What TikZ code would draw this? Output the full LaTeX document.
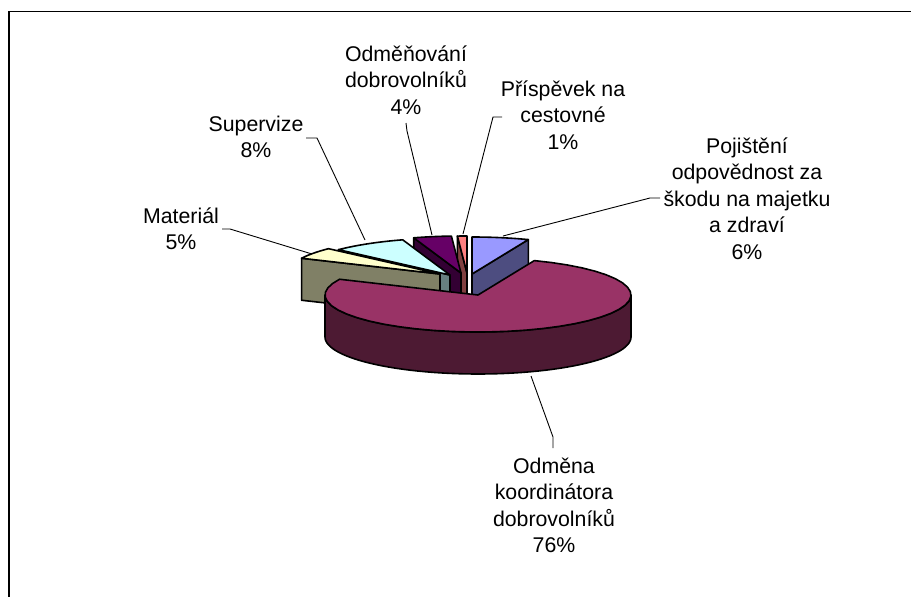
\documentclass[tikz,border=0pt]{standalone}
\usepackage{fontspec}
\setmainfont{Liberation Sans}
\definecolor{pojTop}{HTML}{9999FF}
\definecolor{pojSide}{HTML}{4D4D80}
\definecolor{mainTop}{HTML}{993366}
\definecolor{mainSide}{HTML}{4D1A33}
\definecolor{matTop}{HTML}{FFFFCC}
\definecolor{matSide}{HTML}{808066}
\definecolor{supTop}{HTML}{CCFFFF}
\definecolor{supSide}{HTML}{668080}
\definecolor{odmTop}{HTML}{660066}
\definecolor{odmSide}{HTML}{330033}
\definecolor{priTop}{HTML}{FF8080}
\definecolor{priSide}{HTML}{804040}
\def\pieRX{153}
\def\pieRY{37}
\def\pieD{42}
\newcommand\pieTop[5]{%
  \filldraw[pieline, fill=#5] (#1,#2) -- plot[domain=#3:#4, samples=40] ({#1+\pieRX*sin(\x)},{#2-\pieRY*cos(\x)}) -- cycle;}
\newcommand\pieFace[4]{%
  \filldraw[pieline, fill=#4] (#1,#2) -- ({#1+\pieRX*sin(#3)},{#2-\pieRY*cos(#3)}) -- ++(0,\pieD) -- ({#1},{#2+\pieD}) -- cycle;}
\begin{document}
\begin{tikzpicture}[x=1pt, y=-1pt,
  pieline/.style={draw=black, line width=1.6pt, line join=round},
  leader/.style={draw=black, line width=0.9pt},
  lbl/.style={font=\fontsize{21.3}{26.5}\selectfont, align=center, inner sep=0pt, anchor=north},
  frameline/.style={draw=black, line width=1.3pt}]
\useasboundingbox (0,0) rectangle (911,597);
% frame
\coordinate (fbl) at (9,597);
\coordinate (ftl) at (9,11.5);
\coordinate (ftr) at (911,11.5);
\draw[frameline] (fbl) -- (ftl) -- (ftr);
% slices, back to front
\pieFace{472}{274}{21.6}{pojSide}
\pieTop{472}{274}{0}{21.6}{pojTop}
\pieFace{467}{273}{356.4}{priSide}
\pieTop{467}{273}{356.4}{360}{priTop}
\pieFace{461}{273}{342}{odmSide}
\pieTop{461}{273}{342}{356.4}{odmTop}
\pieFace{450}{275}{313.2}{supSide}
\pieTop{450}{275}{313.2}{342}{supTop}
\pieFace{440}{274}{295.2}{matSide}
\pieTop{440}{274}{295.2}{313.2}{matTop}
% main slice
\filldraw[pieline, fill=mainSide] plot[domain=90:270, samples=60] ({478+\pieRX*sin(\x)},{295-\pieRY*cos(\x)})
  -- plot[domain=270:90, samples=60] ({478+\pieRX*sin(\x)},{295+\pieD-\pieRY*cos(\x)}) -- cycle;
\pieTop{478}{295}{21.6}{295.2}{mainTop}
% labels
\node[lbl] (odm) at (406,42.5) {Odměňování\strut\\dobrovolníků\strut\\4\%\strut};
\node[lbl] (pri) at (563,77.5) {Příspěvek na\strut\\cestovné\strut\\1\%\strut};
\node[lbl] (poj) at (747,134.5) {Pojištění\strut\\odpovědnost za\strut\\škodu na majetku\strut\\a zdraví\strut\\6\%\strut};
\node[lbl] (sup) at (256,112.5) {Supervize\strut\\8\%\strut};
\node[lbl] (mat) at (181,204.5) {Materiál\strut\\5\%\strut};
\node[lbl] (main) at (554,454.5) {Odměna\strut\\koordinátora\strut\\dobrovolníků\strut\\76\%\strut};
% leaders
\coordinate (pojA) at (660,198); \coordinate (pojB) at (650,198); \coordinate (pojC) at (503,236);
\draw[leader] (pojA) -- (pojB) -- (pojC);
\coordinate (priA) at (502,117); \coordinate (priB) at (493,117); \coordinate (priC) at (463,234);
\draw[leader] (priA) -- (priB) -- (priC);
\coordinate (odmA) at (406,123); \coordinate (odmB) at (407,131); \coordinate (odmC) at (432,235);
\draw[leader] (odmA) -- (odmB) -- (odmC);
\coordinate (supA) at (306,138); \coordinate (supB) at (317,138); \coordinate (supC) at (365,240);
\draw[leader] (supA) -- (supB) -- (supC);
\coordinate (matA) at (222,229); \coordinate (matB) at (230,229); \coordinate (matC) at (312,254);
\draw[leader] (matA) -- (matB) -- (matC);
\coordinate (mainA) at (553,448); \coordinate (mainB) at (553,437); \coordinate (mainC) at (531,376);
\draw[leader] (mainA) -- (mainB) -- (mainC);
\end{tikzpicture}
\end{document}
